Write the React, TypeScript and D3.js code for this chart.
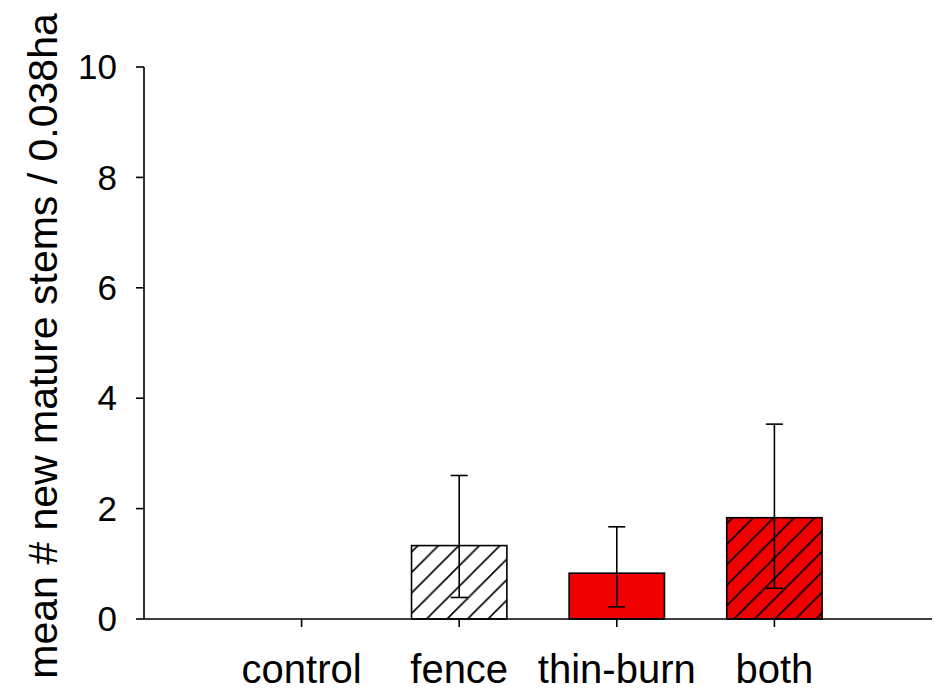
import React from "react";
import * as d3 from "d3";

const categories = ["control", "fence", "thin-burn", "both"];
const means = [0, 1.33, 0.83, 1.835];
const errUpper = [NaN, 2.6, 1.67, 3.53];
const errLower = [NaN, 0.39, 0.22, 0.556];
const fillColors = ["none", "#ffffff", "#f00000", "#f00000"];
const hatched = [false, true, false, true];
const yTicks = [0, 2, 4, 6, 8, 10];
const yTitle = "mean # new mature stems / 0.038ha";

const W = 936;
const H = 692;
const axisX = 144;
const axisRight = 932;
const yTop = 67;
const yBottom = 619;

export default function App() {
  const x = d3.scaleLinear().domain([0, categories.length + 1]).range([axisX, axisRight]);
  const y = d3.scaleLinear().domain([0, 10]).range([yBottom, yTop]);
  const step = x(1) - x(0);
  const barW = step * 0.605;
  const capHalf = 8.5;
  const font = "'Liberation Sans', Arial, sans-serif";
  const hs = 20.5;

  return (
    <svg width={W} height={H} style={{ position: "absolute", left: 0, top: 0, background: "#fff" }}>
      <defs>
        <pattern id="hatch" patternUnits="userSpaceOnUse" width={hs} height={hs} x={0} y={0}>
          <path
            d={`M0,${hs} L${hs},0 M${-hs / 2},${hs / 2} L${hs / 2},${-hs / 2} M${hs / 2},${hs * 1.5} L${hs * 1.5},${hs / 2}`}
            stroke="#000"
            strokeWidth={1.6}
          />
        </pattern>
      </defs>
      <rect x={0} y={0} width={W} height={H} fill="#fff" />

      {/* bars */}
      {categories.map((c, i) => {
        if (!(means[i] > 0)) return null;
        const cx = x(i + 1);
        const top = y(means[i]);
        return (
          <g key={c}>
            <rect x={cx - barW / 2} y={top} width={barW} height={y(0) - top} fill={fillColors[i]} />
            {hatched[i] && (
              <rect x={cx - barW / 2} y={top} width={barW} height={y(0) - top} fill="url(#hatch)" />
            )}
            <rect
              x={cx - barW / 2}
              y={top}
              width={barW}
              height={y(0) - top}
              fill="none"
              stroke="#000"
              strokeWidth={1.6}
            />
          </g>
        );
      })}

      {/* error bars */}
      {categories.map((c, i) => {
        if (isNaN(errUpper[i])) return null;
        const cx = x(i + 1);
        return (
          <g key={"e" + c} stroke="#000" strokeWidth={1.6}>
            <line x1={cx} x2={cx} y1={y(errUpper[i])} y2={y(errLower[i])} />
            <line x1={cx - capHalf} x2={cx + capHalf} y1={y(errUpper[i])} y2={y(errUpper[i])} />
            <line x1={cx - capHalf} x2={cx + capHalf} y1={y(errLower[i])} y2={y(errLower[i])} />
          </g>
        );
      })}

      {/* axes */}
      <line x1={axisX} x2={axisX} y1={yTop} y2={yBottom} stroke="#000" strokeWidth={1.6} />
      <line x1={axisX} x2={axisRight} y1={yBottom} y2={yBottom} stroke="#000" strokeWidth={1.6} />
      {yTicks.map((t) => (
        <g key={"yt" + t}>
          <line x1={axisX - 8} x2={axisX} y1={y(t)} y2={y(t)} stroke="#000" strokeWidth={1.6} />
          <text
            x={axisX - 27}
            y={y(t)}
            dy="0.35em"
            textAnchor="end"
            fontFamily={font}
            fontSize={35}
            fill="#000"
          >
            {t}
          </text>
        </g>
      ))}
      {categories.map((c, i) => (
        <g key={"xt" + c}>
          <line x1={x(i + 1)} x2={x(i + 1)} y1={yBottom} y2={yBottom + 8} stroke="#000" strokeWidth={1.6} />
          <text x={x(i + 1)} y={683} textAnchor="middle" fontFamily={font} fontSize={40} fill="#000">
            {c}
          </text>
        </g>
      ))}
      <text
        transform={`translate(57,${(12 + 680) / 2}) rotate(-90)`}
        textAnchor="middle"
        fontFamily={font}
        fontSize={41}
        fill="#000"
      >
        {yTitle}
      </text>
    </svg>
  );
}
